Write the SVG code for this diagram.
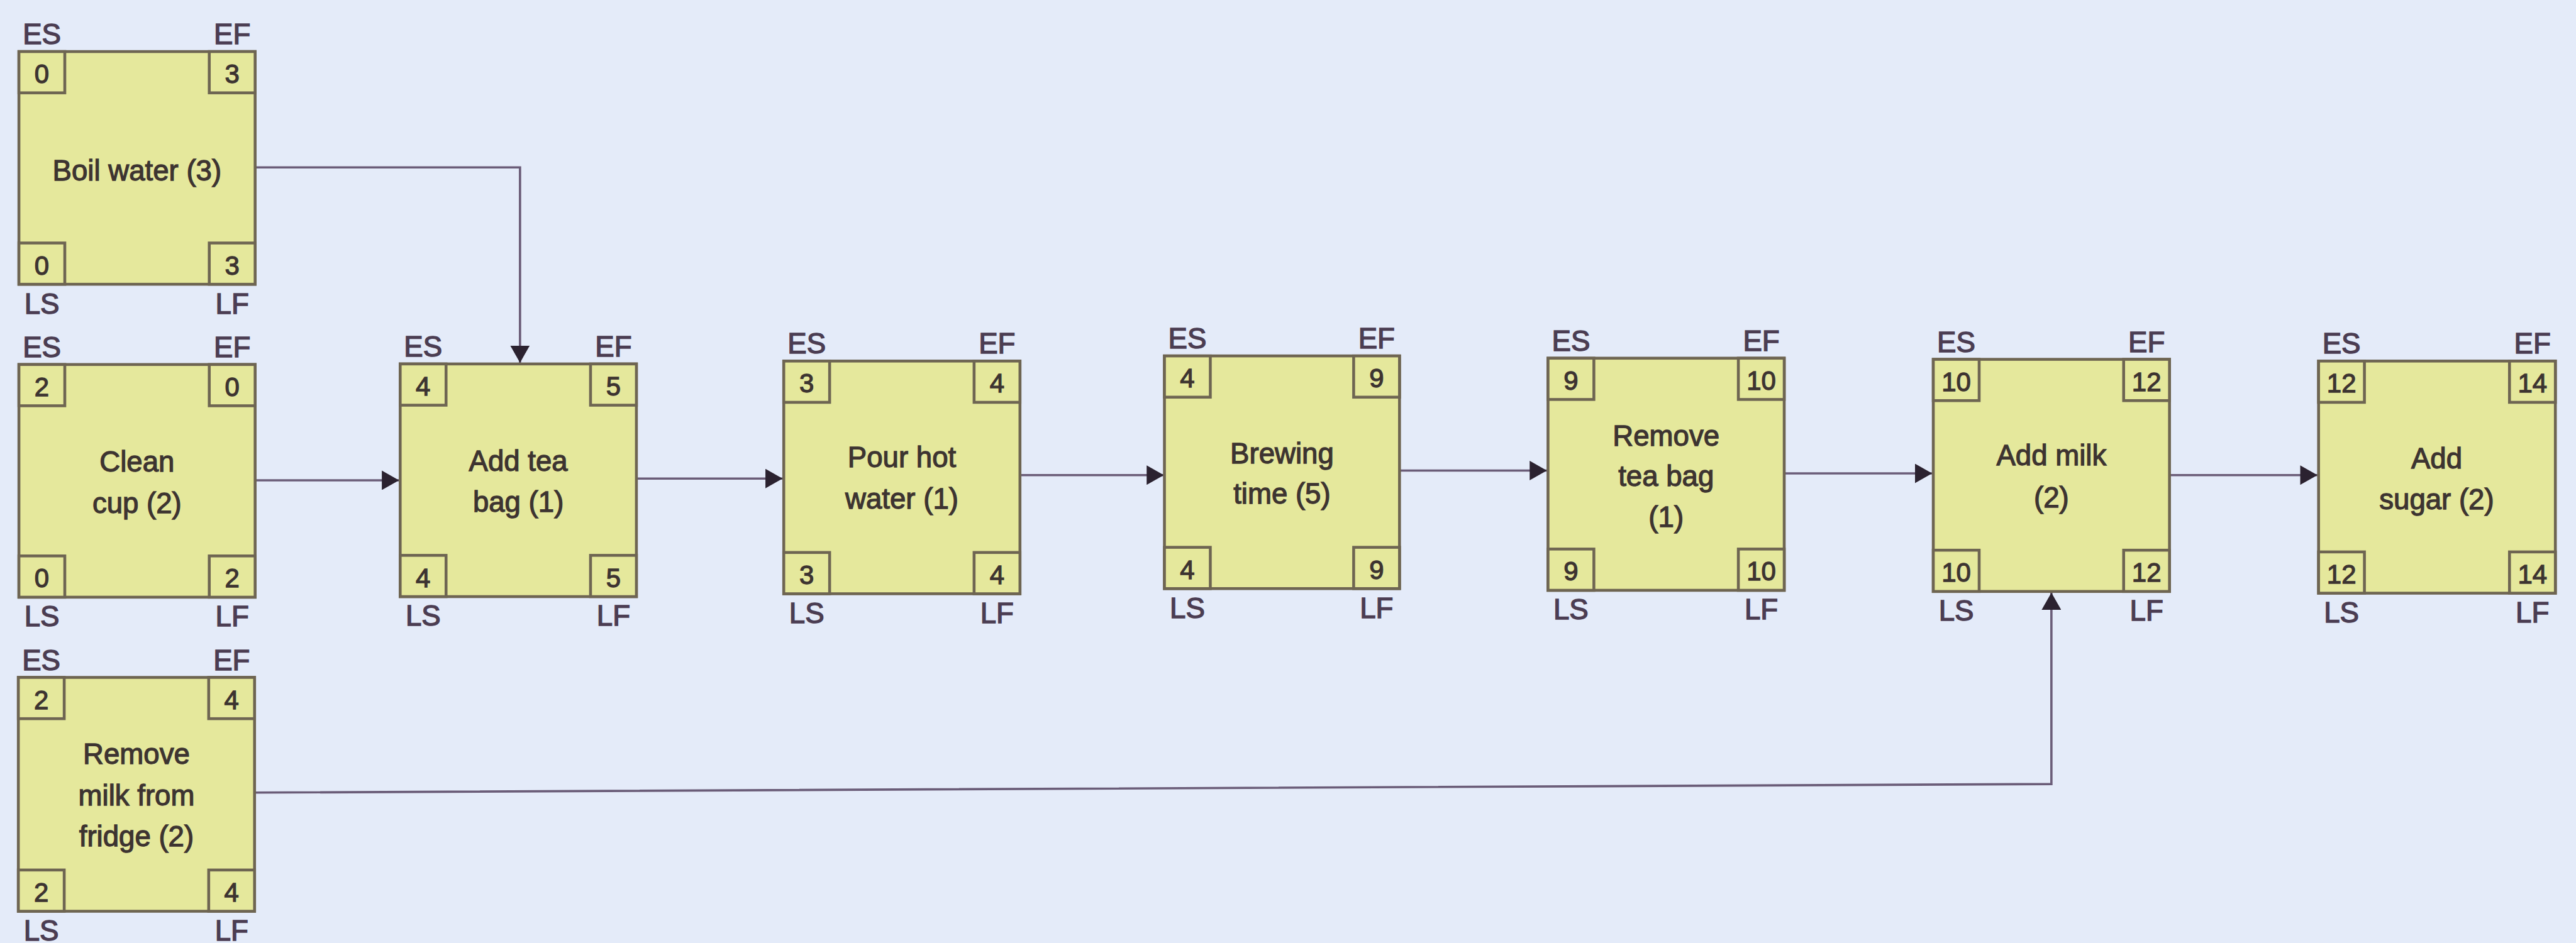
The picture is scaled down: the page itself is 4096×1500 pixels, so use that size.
<svg xmlns="http://www.w3.org/2000/svg" width="4096" height="1500" viewBox="0 0 4096 1500">
<style>
.bg{fill:#e4ebf9}
.box{fill:#e5e89c;stroke:#6e6552;stroke-width:5}
.cb{fill:#e5e89c;stroke:#6e6552;stroke-width:5}
.lbl{font-family:"Liberation Sans",Arial,sans-serif;font-size:50px;fill:#4b3d52;stroke:#4b3d52;stroke-width:1.6;text-anchor:middle}
.num{font-family:"Liberation Sans",Arial,sans-serif;font-size:46px;fill:#3d3431;stroke:#3d3431;stroke-width:1.4;text-anchor:middle}
.name{font-family:"Liberation Sans",Arial,sans-serif;font-size:50px;fill:#3d3431;stroke:#3d3431;stroke-width:1.4;text-anchor:middle}
.conn{fill:none;stroke:#6a5c78;stroke-width:4;marker-end:url(#arr)}
</style>
<defs>
<marker id="arr" markerUnits="userSpaceOnUse" markerWidth="32" markerHeight="34" refX="30" refY="17" orient="auto" viewBox="0 0 32 34">
<path d="M0,0 L30,17 L0,34 Z" fill="#2b2230"/>
</marker>
</defs>
<rect class="bg" x="0" y="0" width="4096" height="1500"/>
<g transform="scale(0.91164)">
<g id="connectors">
<path class="conn" d="M445,292 H907 V633"/>
<path class="conn" d="M445,838 H696"/>
<path class="conn" d="M1110,835 H1365"/>
<path class="conn" d="M1779,829 H2030"/>
<path class="conn" d="M2441,821 H2698"/>
<path class="conn" d="M3112,826 H3370"/>
<path class="conn" d="M3784,829 H4042"/>
<path class="conn" d="M444,1383 L3578,1368 V1034"/>
</g>

<g id="boil-water">
<rect class="box" x="33" y="90" width="412" height="406"/>
<rect class="cb" x="33" y="90" width="80" height="72"/><rect class="cb" x="365" y="90" width="80" height="72"/>
<rect class="cb" x="33" y="424" width="80" height="72"/><rect class="cb" x="365" y="424" width="80" height="72"/>
<text class="lbl" x="73" y="77">ES</text><text class="lbl" x="405" y="77">EF</text>
<text class="lbl" x="73" y="547">LS</text><text class="lbl" x="405" y="547">LF</text>
<text class="num" x="73" y="145">0</text><text class="num" x="405" y="145">3</text>
<text class="num" x="73" y="479">0</text><text class="num" x="405" y="479">3</text>
<text class="name" x="239" y="315">Boil water (3)</text>
</g>

<g id="clean-cup">
<rect class="box" x="33" y="636" width="412" height="406"/>
<rect class="cb" x="33" y="636" width="80" height="72"/><rect class="cb" x="365" y="636" width="80" height="72"/>
<rect class="cb" x="33" y="970" width="80" height="72"/><rect class="cb" x="365" y="970" width="80" height="72"/>
<text class="lbl" x="73" y="623">ES</text><text class="lbl" x="405" y="623">EF</text>
<text class="lbl" x="73" y="1093">LS</text><text class="lbl" x="405" y="1093">LF</text>
<text class="num" x="73" y="691">2</text><text class="num" x="405" y="691">0</text>
<text class="num" x="73" y="1025">0</text><text class="num" x="405" y="1025">2</text>
<text class="name" x="239" y="823">Clean</text>
<text class="name" x="239" y="895">cup (2)</text>
</g>

<g id="remove-milk">
<rect class="box" x="32" y="1182" width="412" height="408"/>
<rect class="cb" x="32" y="1182" width="80" height="72"/><rect class="cb" x="364" y="1182" width="80" height="72"/>
<rect class="cb" x="32" y="1518" width="80" height="72"/><rect class="cb" x="364" y="1518" width="80" height="72"/>
<text class="lbl" x="72" y="1169">ES</text><text class="lbl" x="404" y="1169">EF</text>
<text class="lbl" x="72" y="1641">LS</text><text class="lbl" x="404" y="1641">LF</text>
<text class="num" x="72" y="1237">2</text><text class="num" x="404" y="1237">4</text>
<text class="num" x="72" y="1573">2</text><text class="num" x="404" y="1573">4</text>
<text class="name" x="238" y="1333">Remove</text>
<text class="name" x="238" y="1405">milk from</text>
<text class="name" x="238" y="1476">fridge (2)</text>
</g>

<g id="add-tea-bag">
<rect class="box" x="698" y="635" width="412" height="406"/>
<rect class="cb" x="698" y="635" width="80" height="72"/><rect class="cb" x="1030" y="635" width="80" height="72"/>
<rect class="cb" x="698" y="969" width="80" height="72"/><rect class="cb" x="1030" y="969" width="80" height="72"/>
<text class="lbl" x="738" y="622">ES</text><text class="lbl" x="1070" y="622">EF</text>
<text class="lbl" x="738" y="1092">LS</text><text class="lbl" x="1070" y="1092">LF</text>
<text class="num" x="738" y="690">4</text><text class="num" x="1070" y="690">5</text>
<text class="num" x="738" y="1024">4</text><text class="num" x="1070" y="1024">5</text>
<text class="name" x="904" y="822">Add tea</text>
<text class="name" x="904" y="893">bag (1)</text>
</g>

<g id="pour-hot-water">
<rect class="box" x="1367" y="630" width="412" height="406"/>
<rect class="cb" x="1367" y="630" width="80" height="72"/><rect class="cb" x="1699" y="630" width="80" height="72"/>
<rect class="cb" x="1367" y="964" width="80" height="72"/><rect class="cb" x="1699" y="964" width="80" height="72"/>
<text class="lbl" x="1407" y="617">ES</text><text class="lbl" x="1739" y="617">EF</text>
<text class="lbl" x="1407" y="1087">LS</text><text class="lbl" x="1739" y="1087">LF</text>
<text class="num" x="1407" y="685">3</text><text class="num" x="1739" y="685">4</text>
<text class="num" x="1407" y="1019">3</text><text class="num" x="1739" y="1019">4</text>
<text class="name" x="1573" y="815">Pour hot</text>
<text class="name" x="1573" y="887">water (1)</text>
</g>

<g id="brewing-time">
<rect class="box" x="2031" y="621" width="410" height="406"/>
<rect class="cb" x="2031" y="621" width="80" height="72"/><rect class="cb" x="2361" y="621" width="80" height="72"/>
<rect class="cb" x="2031" y="955" width="80" height="72"/><rect class="cb" x="2361" y="955" width="80" height="72"/>
<text class="lbl" x="2071" y="608">ES</text><text class="lbl" x="2401" y="608">EF</text>
<text class="lbl" x="2071" y="1078">LS</text><text class="lbl" x="2401" y="1078">LF</text>
<text class="num" x="2071" y="676">4</text><text class="num" x="2401" y="676">9</text>
<text class="num" x="2071" y="1010">4</text><text class="num" x="2401" y="1010">9</text>
<text class="name" x="2236" y="808">Brewing</text>
<text class="name" x="2236" y="879">time (5)</text>
</g>

<g id="remove-tea-bag">
<rect class="box" x="2700" y="625" width="412" height="405"/>
<rect class="cb" x="2700" y="625" width="80" height="72"/><rect class="cb" x="3032" y="625" width="80" height="72"/>
<rect class="cb" x="2700" y="958" width="80" height="72"/><rect class="cb" x="3032" y="958" width="80" height="72"/>
<text class="lbl" x="2740" y="612">ES</text><text class="lbl" x="3072" y="612">EF</text>
<text class="lbl" x="2740" y="1081">LS</text><text class="lbl" x="3072" y="1081">LF</text>
<text class="num" x="2740" y="680">9</text><text class="num" x="3072" y="680">10</text>
<text class="num" x="2740" y="1013">9</text><text class="num" x="3072" y="1013">10</text>
<text class="name" x="2906" y="778">Remove</text>
<text class="name" x="2906" y="848">tea bag</text>
<text class="name" x="2906" y="919">(1)</text>
</g>

<g id="add-milk">
<rect class="box" x="3372" y="627" width="412" height="405"/>
<rect class="cb" x="3372" y="627" width="80" height="72"/><rect class="cb" x="3704" y="627" width="80" height="72"/>
<rect class="cb" x="3372" y="960" width="80" height="72"/><rect class="cb" x="3704" y="960" width="80" height="72"/>
<text class="lbl" x="3412" y="614">ES</text><text class="lbl" x="3744" y="614">EF</text>
<text class="lbl" x="3412" y="1083">LS</text><text class="lbl" x="3744" y="1083">LF</text>
<text class="num" x="3412" y="682">10</text><text class="num" x="3744" y="682">12</text>
<text class="num" x="3412" y="1015">10</text><text class="num" x="3744" y="1015">12</text>
<text class="name" x="3578" y="812">Add milk</text>
<text class="name" x="3578" y="885">(2)</text>
</g>

<g id="add-sugar">
<rect class="box" x="4044" y="630" width="413" height="405"/>
<rect class="cb" x="4044" y="630" width="80" height="72"/><rect class="cb" x="4377" y="630" width="80" height="72"/>
<rect class="cb" x="4044" y="963" width="80" height="72"/><rect class="cb" x="4377" y="963" width="80" height="72"/>
<text class="lbl" x="4084" y="616">ES</text><text class="lbl" x="4417" y="616">EF</text>
<text class="lbl" x="4084" y="1086">LS</text><text class="lbl" x="4417" y="1086">LF</text>
<text class="num" x="4084" y="685">12</text><text class="num" x="4417" y="685">14</text>
<text class="num" x="4084" y="1018">12</text><text class="num" x="4417" y="1018">14</text>
<text class="name" x="4250" y="817">Add</text>
<text class="name" x="4250" y="888">sugar (2)</text>
</g>
</g>
</svg>
